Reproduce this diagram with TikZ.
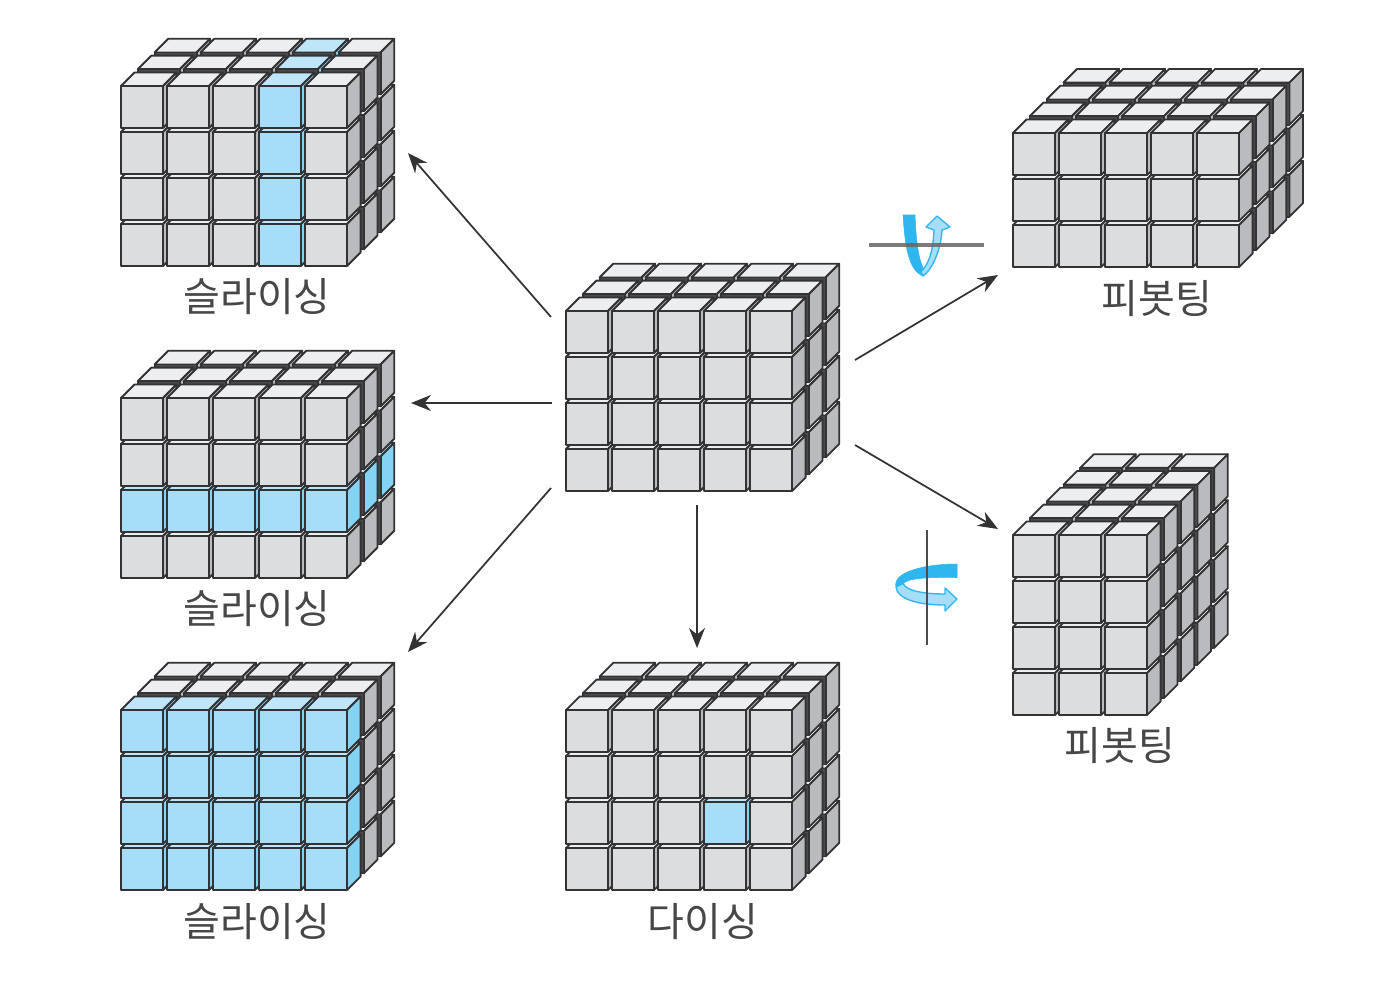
\documentclass[tikz,border=0pt]{standalone}
\usepackage{fontspec}
\usetikzlibrary{arrows.meta}
\newfontfamily\krfont{Noto Sans CJK KR}
\definecolor{frontgrey}{HTML}{DCDDDF}
\definecolor{topgrey}{HTML}{EDEEF0}
\definecolor{sidegrey}{HTML}{B9BBBE}
\definecolor{frontblue}{HTML}{A6DDF9}
\definecolor{topblue}{HTML}{BFE6F8}
\definecolor{sideblue}{HTML}{82D3F4}
\definecolor{gapdark}{HTML}{4A4A4C}
\definecolor{edgedark}{HTML}{333335}
\definecolor{ribbon}{HTML}{2EB6EE}
\tikzset{
  cubeface/.style={draw=edgedark,line width=1.35pt,line join=round},
  flowarrow/.style={draw=edgedark,line width=1.3pt,-{Stealth[length=15pt,width=12pt]}},
  cubelabel/.style={font=\krfont\fontsize{30}{30}\selectfont,text=black!72,inner sep=0pt},
  ribbondark/.style={fill=ribbon,draw=ribbon,line width=.4pt},
  ribbonlight/.style={fill=frontblue,draw=ribbon,line width=1pt,line join=round},
}
% #1,#2 front bottom-left corner; #3 columns; #4 rows; #5 depth; #6 highlight test on \cc,\rr,\dd
\newcommand{\cubestack}[6]{%
  \pgfmathtruncatemacro\lastc{#3-1}%
  \pgfmathtruncatemacro\lastr{#4-1}%
  \pgfmathtruncatemacro\lastd{#5-1}%
  \foreach \dd in {\lastd,...,0}{%
    \foreach \cc in {0,...,\lastc}{%
      \foreach \rr in {0,...,\lastr}{%
        \pgfmathsetmacro\xa{#1+\cc*46+\dd*16.8}%
        \pgfmathsetmacro\ya{#2-\rr*46-\dd*16.8}%
        \pgfmathsetmacro\xb{\xa+42}%
        \pgfmathsetmacro\yb{\ya-42}%
        \pgfmathsetmacro\xc{\xa+13.6}%
        \pgfmathsetmacro\xd{\xb+13.6}%
        \pgfmathsetmacro\yc{\ya-13.6}%
        \pgfmathsetmacro\yd{\yb-13.6}%
        \pgfmathtruncatemacro\hl{(#6)?1:0}%
        \ifnum\hl=1
          \def\ft{frontblue}\def\tp{topblue}\def\sd{sideblue}%
        \else
          \def\ft{frontgrey}\def\tp{topgrey}\def\sd{sidegrey}%
        \fi
        \ifnum\dd>0 \def\ft{gapdark}\fi
        \path[cubeface,fill=\tp] (\xa,\yb) -- (\xc,\yd) -- (\xd,\yd) -- (\xb,\yb) -- cycle;
        \path[cubeface,fill=\sd] (\xb,\ya) -- (\xd,\yc) -- (\xd,\yd) -- (\xb,\yb) -- cycle;
        \path[cubeface,fill=\ft] (\xa,\ya) rectangle (\xb,\yb);
      }%
    }%
  }%
}
\begin{document}
\begin{tikzpicture}[x=0.75pt,y=-0.75pt]
\useasboundingbox[fill=white] (0,0) rectangle (1394,1000);

\cubestack{121}{266}{5}{4}{3}{\cc==3}
\cubestack{121}{578}{5}{4}{3}{\rr==1}
\cubestack{121}{890}{5}{4}{3}{\dd==0}
\cubestack{566}{491}{5}{4}{3}{0}
\cubestack{566}{890}{5}{4}{3}{\cc==3 && \rr==1 && \dd==0}
\cubestack{1013}{267}{5}{3}{4}{0}
\cubestack{1013}{715}{3}{4}{5}{0}

\node[cubelabel] (sliceA) at (257,297) {슬라이싱};
\node[cubelabel] (sliceB) at (257,609) {슬라이싱};
\node[cubelabel] (sliceC) at (257,922) {슬라이싱};
\node[cubelabel] (dice) at (703,922) {다이싱};
\node[cubelabel] (pivotA) at (1157,299) {피봇팅};
\node[cubelabel] (pivotB) at (1120,746) {피봇팅};

\coordinate (c1) at (551,317); \coordinate (t1) at (408,153);
\coordinate (c2) at (552,403); \coordinate (t2) at (411,403);
\coordinate (c3) at (551,488); \coordinate (t3) at (408,652);
\coordinate (c4) at (697,505); \coordinate (t4) at (697,648);
\coordinate (c5) at (855,360); \coordinate (t5) at (998,275);
\coordinate (c6) at (855,445); \coordinate (t6) at (998,529);
\foreach \i in {1,...,6}{\draw[flowarrow] (c\i) -- (t\i);}

% rotation icon, horizontal axis
\path[ribbondark] (903,215) -- (915,215) .. controls (916,240) and (918,258) .. (924,270)
  -- (923,276) .. controls (908,270) and (905,245) .. cycle;
\path[ribbonlight] (923,276) .. controls (932,270) and (941,250) .. (942,230)
  -- (950,227) -- (937,216) -- (926,227) -- (934,230)
  .. controls (933,250) and (930,262) .. (921,272) -- cycle;
\coordinate (ha) at (869,245); \coordinate (hb) at (984,245);
\draw[draw=black!60,line width=3pt,opacity=.85] (ha) -- (hb);

% rotation icon, vertical axis
\path[ribbonlight] (896,587) .. controls (897,598) and (915,605) .. (945,605)
  -- (945,611) -- (957,599) -- (945,588) -- (945,594)
  .. controls (925,594) and (905,591) .. (903,583) -- cycle;
\path[ribbondark] (957,564) -- (957,577.5) .. controls (930,577) and (906,578) .. (903,584)
  -- (896,587) .. controls (892,572) and (925,564) .. cycle;
\coordinate (va) at (927,530); \coordinate (vb) at (927,645);
\draw[draw=black!70,line width=1.5pt] (va) -- (vb);
\end{tikzpicture}
\end{document}
